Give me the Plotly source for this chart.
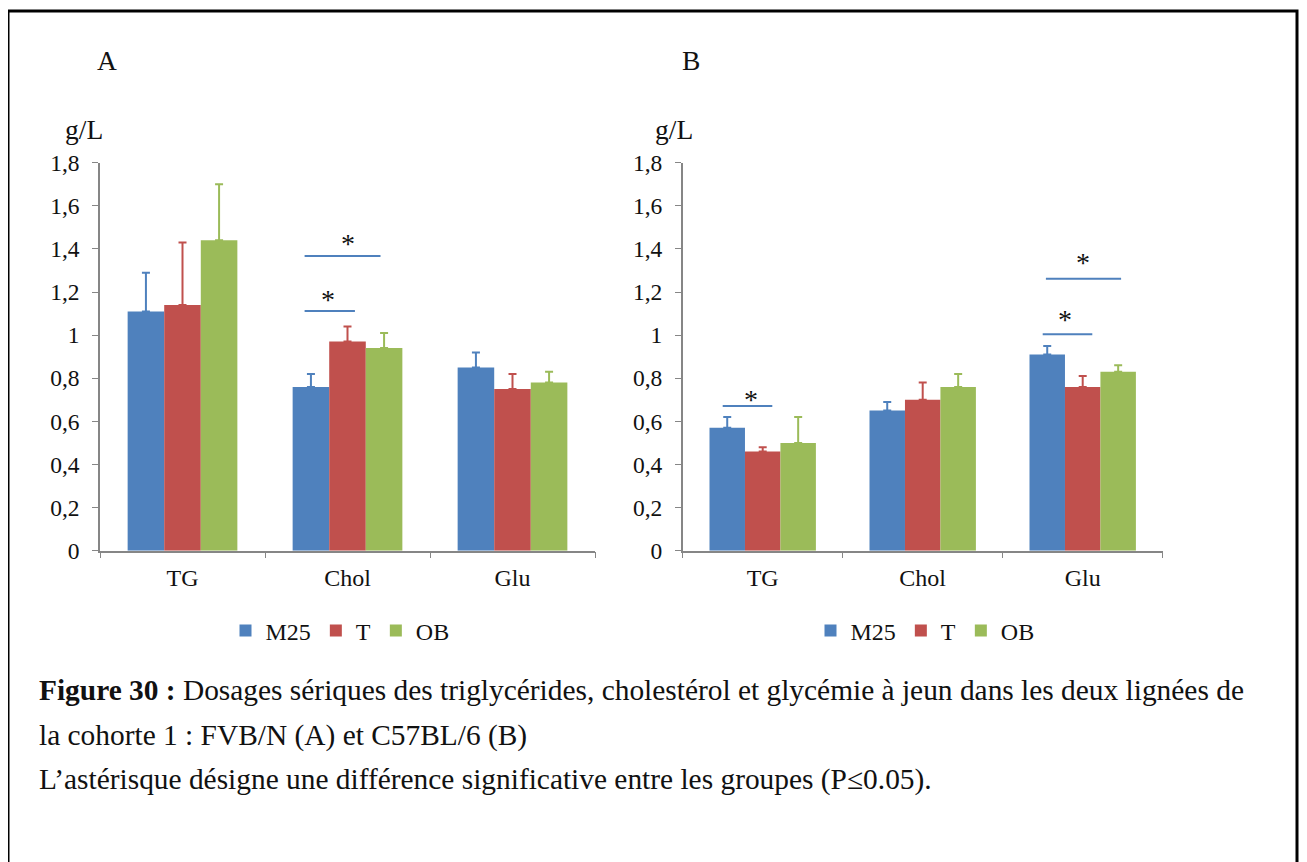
import plotly.graph_objects as go

W, H = 1307, 862

# ---------------- data ----------------
categories = ["TG", "Chol", "Glu"]
series = ["M25", "T", "OB"]
colors = ["#4F81BD", "#C0504D", "#9BBB59"]

# Panel A : FVB/N
A_M25 = [1.11, 0.76, 0.85]
A_T = [1.14, 0.97, 0.75]
A_OB = [1.44, 0.94, 0.78]
A_M25_err = [0.18, 0.06, 0.07]
A_T_err = [0.29, 0.07, 0.07]
A_OB_err = [0.26, 0.07, 0.05]

# Panel B : C57BL/6
B_M25 = [0.57, 0.65, 0.91]
B_T = [0.46, 0.70, 0.76]
B_OB = [0.50, 0.76, 0.83]
B_M25_err = [0.05, 0.04, 0.04]
B_T_err = [0.02, 0.08, 0.05]
B_OB_err = [0.12, 0.06, 0.03]

y_tickvals = [0, 0.2, 0.4, 0.6, 0.8, 1.0, 1.2, 1.4, 1.6, 1.8]
y_ticktext = ["0", "0,2", "0,4", "0,6", "0,8", "1", "1,2", "1,4", "1,6", "1,8"]

# significance brackets: (x0, x1, y_line, x_star, y_star) in category-index units
sig_A = [(0.74, 1.20, 1.367, 1.00, 1.449), (0.74, 1.045, 1.112, 0.88, 1.189)]
sig_B = [(-0.25, 0.06, 0.671, -0.07, 0.725),
         (1.75, 2.06, 1.004, 1.89, 1.098),
         (1.77, 2.24, 1.262, 2.00, 1.359)]

caption_1 = ("<b>Figure 30 :</b> Dosages sériques des triglycérides, cholestérol et "
             "glycémie à jeun dans les deux lignées de")
caption_2 = "la cohorte 1 : FVB/N (A) et C57BL/6 (B)"
caption_3 = "L’astérisque désigne une différence significative entre les groupes (P≤0.05)."

# ---------------- helpers ----------------
OFF = 8  # page body margin offset

def px_x(p):
    return (p - OFF) / W

def px_y(p):
    return 1 - (p - OFF) / H

FONT = "Liberation Serif, Times New Roman, serif"
TXT = "#111111"
AXC = "#868686"

fig = go.Figure()

panelA = [(A_M25, A_M25_err), (A_T, A_T_err), (A_OB, A_OB_err)]
panelB = [(B_M25, B_M25_err), (B_T, B_T_err), (B_OB, B_OB_err)]

for panel, (xa, ya, lg) in zip([panelA, panelB], [("x", "y", "legend"), ("x2", "y2", "legend2")]):
    for (vals, errs), name, col in zip(panel, series, colors):
        fig.add_trace(go.Bar(
            x=categories, y=vals, name=name, xaxis=xa, yaxis=ya, legend=lg,
            marker=dict(color=col, line=dict(width=0)),
            error_y=dict(type="data", symmetric=False, array=errs,
                         arrayminus=[0] * len(errs), color=col,
                         thickness=2, width=4),
        ))

axis_common_y = dict(
    range=[0, 1.8], tickvals=y_tickvals, ticktext=y_ticktext,
    showline=True, linecolor=AXC, linewidth=1.5, ticks="outside",
    ticklen=6, tickcolor=AXC, showgrid=False, zeroline=False,
    tickfont=dict(family=FONT, size=23.5, color=TXT), ticklabelstandoff=8,
)
axis_common_x = dict(
    type="category", range=[-0.5, 2.5], showline=True, linecolor=AXC,
    linewidth=1.5, ticks="outside", tickson="boundaries", ticklen=6,
    tickcolor=AXC, showgrid=False, zeroline=False,
    tickfont=dict(family=FONT, size=24, color=TXT), ticklabelstandoff=5,
)

ydom = [px_y(550.7), px_y(162.7)]
fig.update_layout(
    width=W, height=H, margin=dict(l=0, r=0, t=0, b=0, pad=0, autoexpand=False),
    paper_bgcolor="white", plot_bgcolor="white",
    barmode="group", bargap=0.335, bargroupgap=0,
    font=dict(family=FONT, color=TXT),
    xaxis=dict(domain=[px_x(100), px_x(595)], anchor="y", **axis_common_x),
    yaxis=dict(domain=ydom, anchor="x", **axis_common_y),
    xaxis2=dict(domain=[px_x(682.7), px_x(1162.7)], anchor="y2", **axis_common_x),
    yaxis2=dict(domain=ydom, anchor="x2", **axis_common_y),
    legend=dict(orientation="h", x=px_x(340), xanchor="center", y=px_y(631),
                yanchor="middle", font=dict(family=FONT, size=24, color=TXT),
                itemwidth=30, tracegroupgap=0, bgcolor="rgba(0,0,0,0)"),
    legend2=dict(orientation="h", x=px_x(925), xanchor="center", y=px_y(631),
                 yanchor="middle", font=dict(family=FONT, size=24, color=TXT),
                 itemwidth=30, tracegroupgap=0, bgcolor="rgba(0,0,0,0)"),
    showlegend=True,
)

shapes = []
annotations = []
for sigs, xr, yr in [(sig_A, "x", "y"), (sig_B, "x2", "y2")]:
    for x0, x1, yl, xs, ys in sigs:
        shapes.append(dict(type="line", xref=xr, yref=yr, x0=x0, x1=x1, y0=yl, y1=yl,
                           line=dict(color="#4F81BD", width=2)))
        annotations.append(dict(xref=xr, yref=yr, x=xs, y=ys, text="*", showarrow=False,
                                font=dict(family=FONT, size=28, color=TXT),
                                xanchor="center", yanchor="middle", yshift=-5))

# outer frame
shapes.append(dict(type="rect", xref="paper", yref="paper", x0=px_x(8), x1=px_x(1297),
                   y0=px_y(890), y1=px_y(11), line=dict(color="black", width=3),
                   fillcolor="rgba(0,0,0,0)"))

# panel letters and units
for txt, xp, yp in [("A", 107, 60), ("B", 691, 60), ("g/L", 84, 129), ("g/L", 674, 129)]:
    annotations.append(dict(xref="paper", yref="paper", x=px_x(xp), y=px_y(yp), text=txt,
                            showarrow=False, xanchor="center", yanchor="middle",
                            font=dict(family=FONT, size=27.5, color=TXT)))

# caption
for txt, yp in [(caption_1, 690), (caption_2, 735), (caption_3, 779)]:
    annotations.append(dict(xref="paper", yref="paper", x=px_x(37), y=px_y(yp), text=txt,
                            showarrow=False, xanchor="left", yanchor="middle",
                            font=dict(family=FONT, size=29.4, color=TXT)))

fig.update_layout(shapes=shapes, annotations=annotations)
fig.write_html("out.html")
